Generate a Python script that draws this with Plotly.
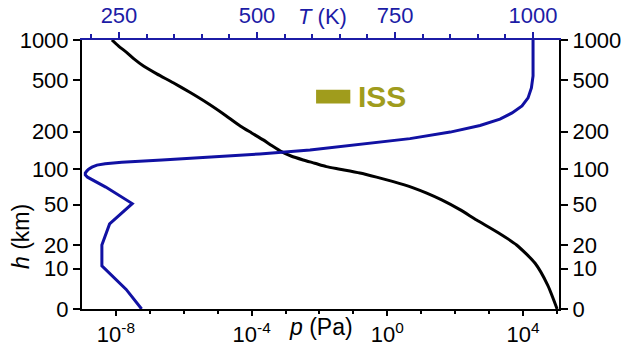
import math
import plotly.graph_objects as go

# ---- data ----
# pressure profile (black): altitude h (km) vs pressure p (Pa)
h_p = [0, 5, 12, 20, 27, 36, 45, 55, 63, 70, 79, 86, 93, 100, 105, 112, 119, 128, 138,
       155, 172, 195, 221, 275, 334, 400, 475, 555, 636, 720, 803, 900, 1000]
p_pa = [1.01e5, 5.37e4, 2.24e4, 6.46e3, 1.86e3, 4.27e2, 1.38e2, 4.0e1, 1.45e1, 5.8, 1.5,
        4.8e-1, 1.55e-1, 4.0e-2, 1.6e-2, 7.2e-3, 3.3e-3, 1.45e-3, 7.8e-4,
        3.9e-4, 2.2e-4, 1.0e-4, 4.6e-5, 1.45e-5, 4.8e-6, 1.55e-6, 4.9e-7, 1.6e-7,
        6.5e-8, 3.4e-8, 2.1e-8, 1.2e-8, 7.6e-9]

# temperature profile (blue): altitude h (km) vs temperature T (K)
h_T = [0, 4, 11, 20, 33, 51, 71, 86, 89.7, 93, 97, 100, 104, 108, 111, 114, 119, 125, 133,
       143, 158, 176, 198, 223, 250, 279, 316, 364, 434, 535, 1000]
T_K = [291, 263, 219, 219, 233, 274, 226, 193, 189, 189, 192, 195, 201, 210, 225, 255, 328,
       408, 505, 596, 687, 777, 850, 904, 940, 962, 980, 991, 997, 1000, 1000]

# ISS orbit band
iss_h = [330, 420]
iss_T = [607, 669]

# axis ticks
h_ticks = [0, 10, 20, 50, 100, 200, 500, 1000]
h_offset = 10  # the altitude axis is logarithmic in (h + 10 km)
p_ticks = [1e-8, 1e-4, 1e0, 1e4]
p_ticklabels = ["10<sup>-8</sup>", "10<sup>-4</sup>", "10<sup>0</sup>", "10<sup>4</sup>"]
p_minor = [1e-7, 1e-6, 1e-5, 1e-3, 1e-2, 1e-1, 1e1, 1e2, 1e3, 1e5]
T_ticks = [250, 500, 750, 1000]
T_minor = [200, 300, 350, 400, 450, 550, 600, 650, 700, 800, 850, 900, 950]

BLUE = "#1111a3"
AXBLUE = "#1c1ca6"
OLIVE = "#a09c1c"
FONT = "Liberation Sans, Arial, sans-serif"
TICK = 22

fig = go.Figure()

fig.add_trace(go.Scatter(
    x=p_pa, y=[h + h_offset for h in h_p], mode="lines",
    line=dict(color="black", width=3, shape="spline", smoothing=0.6),
    xaxis="x", yaxis="y", showlegend=False, hoverinfo="skip"))

fig.add_trace(go.Scatter(
    x=T_K, y=[h + h_offset for h in h_T], mode="lines",
    line=dict(color=BLUE, width=3),
    xaxis="x2", yaxis="y", showlegend=False, hoverinfo="skip"))

# ISS band as filled rectangle
fig.add_trace(go.Scatter(
    x=[iss_T[0], iss_T[1], iss_T[1], iss_T[0], iss_T[0]],
    y=[iss_h[0] + h_offset, iss_h[0] + h_offset, iss_h[1] + h_offset, iss_h[1] + h_offset, iss_h[0] + h_offset],
    fill="toself", fillcolor=OLIVE, mode="lines", line=dict(color=OLIVE, width=0),
    xaxis="x2", yaxis="y", showlegend=False, hoverinfo="skip"))

# invisible trace for right axis
fig.add_trace(go.Scatter(x=[1e0], y=[100], mode="markers", marker=dict(opacity=0),
                         xaxis="x", yaxis="y2", showlegend=False, hoverinfo="skip"))

yr = [math.log10(0 + h_offset), math.log10(1000 + h_offset)]
ytv = [h + h_offset for h in h_ticks]
ytt = [str(h) for h in h_ticks]

fig.update_layout(
    template="none",
    width=631, height=343,
    margin=dict(l=82, r=72, t=40, b=34, pad=0, autoexpand=False),
    paper_bgcolor="white", plot_bgcolor="white",
    font=dict(family=FONT, size=TICK, color="black"),
    xaxis=dict(type="log", range=[-9, 5.06], tickvals=p_ticks, ticktext=p_ticklabels,
               ticks="outside", ticklen=5, tickwidth=1.5, tickcolor="black",
               showline=True, linecolor="black", linewidth=2, showgrid=False, zeroline=False,
               minor=dict(tickvals=p_minor, ticks="outside", ticklen=3, tickwidth=1.5,
                          tickcolor="black", showgrid=False),
               tickfont=dict(size=TICK, color="black"), anchor="y", side="bottom", automargin=False),
    xaxis2=dict(range=[183, 1047], tickvals=T_ticks, ticks="outside", ticklen=6, tickwidth=1.5,
                tickcolor=AXBLUE, showline=True, linecolor=AXBLUE, linewidth=2,
                showgrid=False, zeroline=False, overlaying="x", side="top", anchor="y",
                minor=dict(tickvals=T_minor, ticks="outside", ticklen=4, tickwidth=1.5,
                           tickcolor=AXBLUE, showgrid=False),
                tickfont=dict(size=TICK, color=AXBLUE), automargin=False),
    yaxis=dict(type="log", range=yr, tickvals=ytv, ticktext=ytt, ticks="outside",
               ticklen=7, tickwidth=1.5, tickcolor="black", showline=True, linecolor="black",
               linewidth=2, showgrid=False, zeroline=False, anchor="x", side="left",
               tickfont=dict(size=TICK, color="black"), automargin=False),
    yaxis2=dict(type="log", range=yr, tickvals=ytv, ticktext=ytt, ticks="outside",
                ticklen=7, tickwidth=1.5, tickcolor="black", showline=True, linecolor="black",
                linewidth=2, showgrid=False, zeroline=False, overlaying="y", side="right",
                anchor="x", tickfont=dict(size=TICK, color="black"), automargin=False),
)

fig.add_annotation(text="<i>T</i> (K)", xref="paper", yref="paper", x=0.504, y=1.086,
                   showarrow=False, font=dict(size=22, color=AXBLUE), xanchor="center", yanchor="middle")
fig.add_annotation(text="<i>p</i> (Pa)", xref="paper", yref="paper", x=0.5, y=-0.067,
                   showarrow=False, font=dict(size=23, color="black"), xanchor="center", yanchor="middle")
fig.add_annotation(text="<i>h</i> (km)", xref="paper", yref="paper", x=-0.128, y=0.271,
                   textangle=-90, showarrow=False, font=dict(size=23, color="black"),
                   xanchor="center", yanchor="middle")
fig.add_annotation(text="<b>ISS</b>", xref="x2", yref="y", x=680, y=math.log10(375 + h_offset),
                   showarrow=False, font=dict(size=30, color=OLIVE), xanchor="left", yanchor="middle")

fig.write_html("out.html", config={"displayModeBar": False},
               post_script="document.body.style.margin='0';document.body.style.overflow='hidden';")
